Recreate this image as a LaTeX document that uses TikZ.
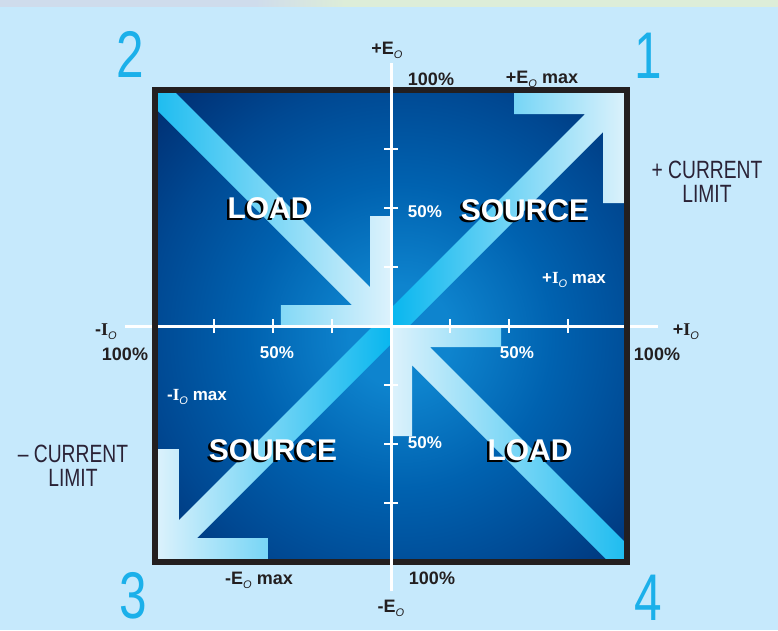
\documentclass[tikz,border=0pt]{standalone}
\usepackage{fontspec}
\setmainfont{Liberation Sans}
\newfontfamily\serifI{Liberation Serif}
\definecolor{bgblue}{HTML}{C6E9FC}
\definecolor{stripL}{HTML}{CFDCEC}
\definecolor{stripR}{HTML}{DDEDD8}
\definecolor{numcyan}{HTML}{1BB0EA}
\definecolor{arrcyan}{HTML}{00B4EE}
\definecolor{arrpale}{HTML}{DDF2FC}
\definecolor{framek}{HTML}{231F20}
\definecolor{txtdark}{HTML}{231F20}
\definecolor{limitc}{HTML}{2A2236}
\definecolor{bgA}{HTML}{0E84CE}
\definecolor{bgA2}{HTML}{0062B0}
\definecolor{bgB}{HTML}{004892}
\definecolor{bgC}{HTML}{002A6C}
\definecolor{bgD}{HTML}{000538}
\pgfdeclareradialshading{panelshade}{\pgfpoint{0bp}{0bp}}{color(0bp)=(bgA); color(5bp)=(bgA); color(15bp)=(bgA2); color(25bp)=(bgB); color(35bp)=(bgC); color(50bp)=(bgD)}
\newcommand{\subO}{\raisebox{-4pt}{\fontsize{11}{11}\selectfont\mdseries\itshape O}}
\newcommand{\Ivar}{{\serifI\bfseries I}}
\begin{document}
\begin{tikzpicture}[x=1pt,y=1pt,
  lbl/.style={font=\fontsize{18}{18}\selectfont\bfseries, text=txtdark, inner sep=0pt, anchor=base},
  wlbl/.style={font=\fontsize{17}{17}\selectfont\bfseries, text=white, inner sep=0pt, anchor=base},
  quadnum/.style={font=\fontsize{66}{66}\selectfont, text=numcyan, inner sep=0pt},
  biglbl/.style={font=\fontsize{30}{30}\selectfont\bfseries, text=white, inner sep=0pt, anchor=base},
  bigsh/.style={font=\fontsize{30}{30}\selectfont\bfseries, text=black, inner sep=0pt, anchor=base},
  limit/.style={font=\fontsize{25}{22}\selectfont, text=limitc, inner sep=0pt},
  axisline/.style={white, line width=3pt},
  tickline/.style={white, line width=2.5pt},
  framebox/.style={draw=framek, line width=6pt}]
\useasboundingbox (-391,-304) rectangle (387,326);
\fill[bgblue] (-391,-304) rectangle (387,326);
\fill[stripL] (-391,319) rectangle (-136,326);
\shade[left color=stripL,right color=stripR] (-136,319) rectangle (-46,326);
\fill[stripR] (-46,319) rectangle (387,326);
% panel
\begin{scope}
\clip (-233,-233) rectangle (233,233);
\shade[shading=panelshade] (-243,-263) rectangle (263,243);
% Q1 arrow (source, up-right)
\shade[left color=arrcyan, right color=arrpale]
  (-9,9) -- (194,212) -- (123,212) -- (123,236) -- (236,236) -- (236,123) -- (212,123) -- (212,194) -- (9,-9) -- cycle;
% Q3 arrow (source, down-left)
\shade[left color=arrpale, right color=arrcyan]
  (9,-9) -- (-194,-212) -- (-123,-212) -- (-123,-236) -- (-236,-236) -- (-236,-123) -- (-212,-123) -- (-212,-194) -- (-9,9) -- cycle;
% Q2 arrow (load, towards centre)
\shade[left color=arrcyan, right color=arrpale]
  (0,0) -- (-110,0) -- (-110,21) -- (-39,21) -- (-272,254) -- (-254,272) -- (-21,39) -- (-21,110) -- (0,110) -- cycle;
% Q4 arrow (load, towards centre)
\shade[left color=arrpale, right color=arrcyan]
  (0,0) -- (110,0) -- (110,-21) -- (39,-21) -- (272,-254) -- (254,-272) -- (21,-39) -- (21,-110) -- (0,-110) -- cycle;
\end{scope}
% axes and frame
\draw[axisline] (-266,0) -- (267,0);
\draw[framebox] (-236,-236) rectangle (236,236);
\draw[axisline] (0,263) -- (0,-265);
\foreach \p in {-177,-118,-59,59,118,177}{
  \draw[tickline] (\p,-7) -- (\p,7);
  \draw[tickline] (-7,\p) -- (7,\p);
}
% quadrant numbers
\node[quadnum] (n2) at (-261,272) {\scalebox{0.75}[1]{2}};
\node[quadnum] (n1) at (257,270) {\scalebox{0.75}[1]{1}};
\node[quadnum] (n3) at (-258,-270) {\scalebox{0.75}[1]{3}};
\node[quadnum] (n4) at (257,-272) {\scalebox{0.75}[1]{4}};
% current limit
\node[limit] (climp) at (316,141) {\scalebox{0.77}[1]{\begin{tabular}{@{}c@{}}+ CURRENT\\LIMIT\end{tabular}}};
\node[limit] (climn) at (-318,-143) {\scalebox{0.77}[1]{\begin{tabular}{@{}c@{}}– CURRENT\\LIMIT\end{tabular}}};
% axis labels
\node[lbl] (eop) at (-4,272) {+E\subO};
\node[lbl] (p100t) at (40,241) {100\%};
\node[lbl] (eomax) at (151,243) {+E\subO\ max};
\node[lbl] (ion) at (-285,-9) {-\Ivar\subO};
\node[lbl] (p100l) at (-266,-34) {100\%};
\node[lbl] (iop) at (295,-9) {+\Ivar\subO};
\node[lbl] (p100r) at (266,-34) {100\%};
\node[lbl] (p100b) at (41,-258) {100\%};
\node[lbl] (eomaxn) at (-132,-258) {-E\subO\ max};
\node[lbl] (eon) at (0,-286) {-E\subO};
% white labels
\node[wlbl] (p50l) at (-114,-32) {50\%};
\node[wlbl] (p50r) at (126,-32) {50\%};
\node[wlbl] (p50t) at (34,109) {50\%};
\node[wlbl] (p50b) at (34,-122) {50\%};
\node[wlbl] (iomax) at (183,43) {+\Ivar\subO\ max};
\node[wlbl] (iomaxn) at (-194,-74) {-\Ivar\subO\ max};
% big labels with shadow
\node[bigsh] (load2s) at (-123.5,105.5) {LOAD};
\node[biglbl] (load2) at (-121,108) {LOAD};
\node[bigsh] (src1s) at (131.5,103.5) {SOURCE};
\node[biglbl] (src1) at (134,106) {SOURCE};
\node[bigsh] (src3s) at (-120.5,-136.5) {SOURCE};
\node[biglbl] (src3) at (-118,-134) {SOURCE};
\node[bigsh] (load4s) at (136.5,-136.5) {LOAD};
\node[biglbl] (load4) at (139,-134) {LOAD};
\end{tikzpicture}
\end{document}
